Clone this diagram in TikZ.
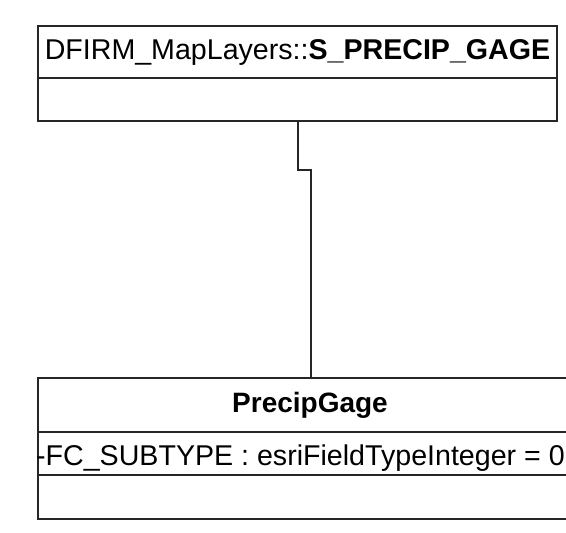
\documentclass[tikz,border=0pt]{standalone}
\usepackage{fontspec}
\setmainfont{Liberation Sans}
\begin{document}
\begin{tikzpicture}[x=1pt,y=-1pt,
  box/.style={draw=black!85,line width=1.7pt},
  conn/.style={draw=black!85,line width=1.7pt},
  lbl/.style={inner sep=0pt,font=\fontsize{28.6}{33}\selectfont},
  ttl/.style={inner sep=0pt,font=\fontsize{28}{32}\selectfont\bfseries}]
\useasboundingbox (0,0) rectangle (566,533);
\clip (0,0) rectangle (566,533);
% top class
\draw[box] (38,26) rectangle (557,121);
\draw[box] (38,78) -- (557,78);
\node[lbl,anchor=base] (t1) at (297.5,59) {DFIRM\_MapLayers::\textbf{S\_PRECIP\_GAGE}};
\coordinate (a) at (298,121);
% bottom class
\draw[box] (38,378) rectangle (590,519);
\draw[box] (38,432) -- (590,432);
\draw[box] (38,475) -- (590,475);
\node[ttl,anchor=base] (t2) at (310,412) {PrecipGage};
\node[lbl,anchor=base west] (t3) at (36,465) {-FC\_SUBTYPE : esriFieldTypeInteger = 0};
\coordinate (b) at (311,378);
\draw[conn] (a) -- (298,170) -- (311,170) -- (b);
\end{tikzpicture}
\end{document}
